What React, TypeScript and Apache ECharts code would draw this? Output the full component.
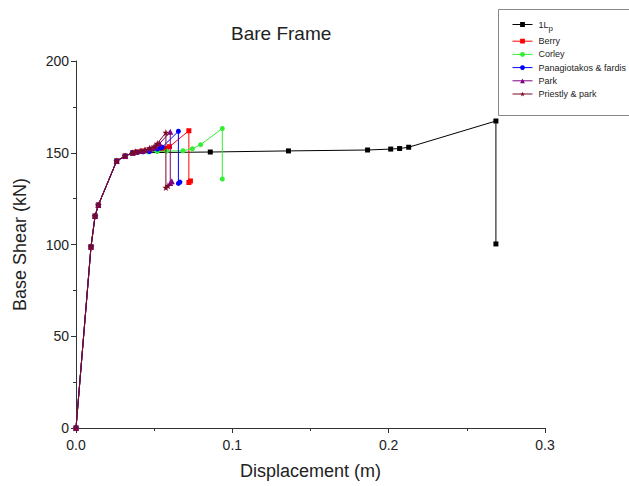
import React, { useEffect, useRef } from "react";
import * as echarts from "echarts";

const seriesNames = ["1Lp", "Berry", "Corley", "Panagiotakos & fardis", "Park", "Priestly & park"];

const commonDisp = [0, 0.0096, 0.0122, 0.0143, 0.026, 0.0314, 0.0363];
const commonShear = [0, 98.8, 115.5, 121.5, 145.5, 148.2, 150];

const lpDisp = [0.0859, 0.1359, 0.1865, 0.2013, 0.207, 0.2128, 0.2686, 0.2686];
const lpShear = [150.4, 151, 151.5, 152, 152.3, 153, 167.3, 100.3];

const berryDisp = [0.039, 0.043, 0.047, 0.051, 0.0555, 0.0578, 0.0598, 0.0722, 0.0722, 0.0732];
const berryShear = [150.5, 151, 151.5, 151.8, 152, 152.4, 153.3, 162, 133.8, 134.6];

const corleyDisp = [0.04, 0.046, 0.052, 0.058, 0.0684, 0.0744, 0.0797, 0.0936, 0.0936];
const corleyShear = [150.3, 150.5, 150.7, 150.9, 151.1, 152.2, 154.4, 163.2, 135.7];

const pfDisp = [0.0395, 0.043, 0.047, 0.0521, 0.0538, 0.0551, 0.0655, 0.0655, 0.0665];
const pfShear = [150.3, 150.5, 150.6, 152, 152.6, 153, 161.7, 133.3, 134];

const parkDisp = [0.0383, 0.0415, 0.0445, 0.048, 0.051, 0.0535, 0.0603, 0.0603, 0.0613];
const parkShear = [150.6, 151, 151.5, 152.3, 153.5, 155, 161.5, 133.5, 134.5];

const priestlyDisp = [0.038, 0.041, 0.044, 0.047, 0.05, 0.052, 0.0575, 0.0575, 0.0588];
const priestlyShear = [150.5, 151, 151.5, 152.5, 153.5, 155, 161, 131, 132];

const colors = ["#000000", "#ff0000", "#33ee33", "#0000ff", "#800080", "#7a0a28"];
const symbols = ["rect", "rect", "circle", "circle", "triangle", "path://M0,-10 L2.4,-3.2 L9.5,-3.1 L3.8,1.2 L5.9,8.1 L0,4 L-5.9,8.1 L-3.8,1.2 L-9.5,-3.1 L-2.4,-3.2 Z"];

function pairs(d: number[], s: number[]) {
  return d.map((x, i) => [x, s[i]]);
}

const FONT = "'Liberation Sans', Arial, sans-serif";

export default function App() {
  const ref = useRef<HTMLDivElement>(null);
  useEffect(() => {
    if (!ref.current) return;
    const chart = echarts.init(ref.current, undefined, { renderer: "svg" });
    const dataSets = [
      pairs(commonDisp.concat(lpDisp), commonShear.concat(lpShear)),
      pairs(commonDisp.concat(berryDisp), commonShear.concat(berryShear)),
      pairs(commonDisp.concat(corleyDisp), commonShear.concat(corleyShear)),
      pairs(commonDisp.concat(pfDisp), commonShear.concat(pfShear)),
      pairs(commonDisp.concat(parkDisp), commonShear.concat(parkShear)),
      pairs(commonDisp.concat(priestlyDisp), commonShear.concat(priestlyShear)),
    ];
    chart.setOption({
      animation: false,
      textStyle: { fontFamily: FONT },
      title: {
        text: "Bare Frame",
        left: 226,
        top: 19,
        textStyle: { fontSize: 19, fontWeight: "normal", color: "#222", fontFamily: FONT },
      },
      graphic: [
        {
          type: "rect",
          left: 498,
          top: 9,
          shape: { width: 200, height: 106 },
          style: { fill: "#fff", stroke: "#888", lineWidth: 1 },
          z: 0,
        },
      ],
      legend: {
        orient: "vertical",
        left: 498,
        top: 9,
        padding: [11, 0, 0, 14],
        itemGap: 4.2,
        itemWidth: 20,
        itemHeight: 6,
        data: seriesNames,
        lineStyle: { width: 1 },
        formatter: (name: string) => (name === "1Lp" ? "1L{sub|p}" : name),
        textStyle: {
          fontSize: 9,
          color: "#222",
          fontFamily: FONT,
          padding: [0, 0, 0, 1],
          rich: {
            sub: { fontSize: 8, padding: [8, 0, 0, 0], color: "#222" },
          },
        },
        z: 5,
      },
      grid: { left: 76, right: 84, top: 61, bottom: 58 },
      xAxis: {
        type: "value",
        min: 0,
        max: 0.3,
        interval: 0.1,
        name: "Displacement (m)",
        nameLocation: "middle",
        nameGap: 34,
        nameTextStyle: { fontSize: 18, color: "#222", fontFamily: FONT },
        axisLine: { show: true, onZero: false, lineStyle: { color: "#333", width: 1 } },
        axisTick: { show: true, inside: false, length: 5, lineStyle: { color: "#333" } },
        minorTick: { show: true, splitNumber: 2, length: 3, lineStyle: { color: "#333" } },
        axisLabel: { fontSize: 14, color: "#222", margin: 10, formatter: (v: number) => v.toFixed(1) },
        splitLine: { show: false },
      },
      yAxis: {
        type: "value",
        min: 0,
        max: 200,
        interval: 50,
        name: "Base Shear (kN)",
        nameLocation: "middle",
        nameGap: 47,
        nameTextStyle: { fontSize: 18, color: "#222", fontFamily: FONT },
        axisLine: { show: true, onZero: false, lineStyle: { color: "#333", width: 1 } },
        axisTick: { show: true, inside: false, length: 5, lineStyle: { color: "#333" } },
        minorTick: { show: true, splitNumber: 2, length: 3, lineStyle: { color: "#333" } },
        axisLabel: { fontSize: 14, color: "#222", margin: 7 },
        splitLine: { show: false },
      },
      series: dataSets.map((data, i) => ({
        name: seriesNames[i],
        type: "line",
        data,
        symbol: symbols[i],
        symbolSize: i === 4 ? 6 : i === 5 ? 7 : 5,
        showAllSymbol: true,
        lineStyle: { color: colors[i], width: 1 },
        itemStyle: { color: colors[i] },
        z: 2 + i,
      })),
    });
    return () => chart.dispose();
  }, []);
  return (
    <div
      ref={ref}
      style={{ position: "fixed", left: 0, top: 0, width: 629, height: 486, background: "#fff" }}
    />
  );
}
